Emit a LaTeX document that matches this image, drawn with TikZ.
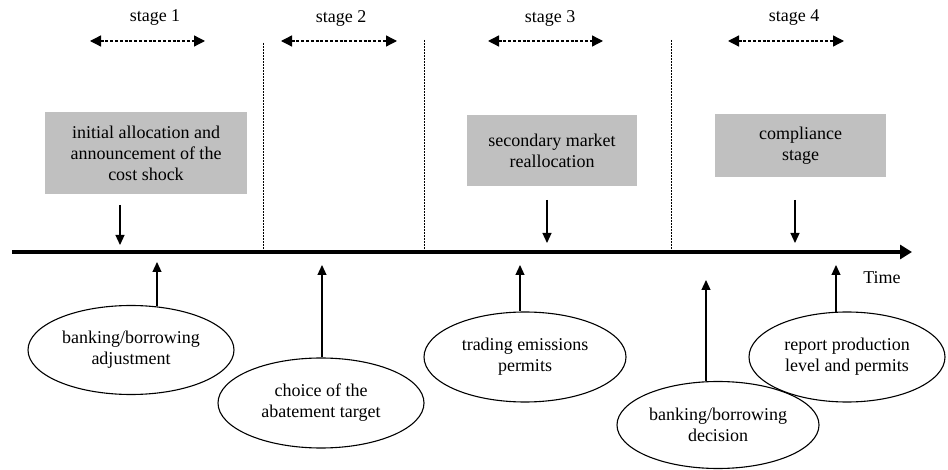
\documentclass[tikz,border=0pt]{standalone}
\usepackage{fontspec}
\setmainfont{Liberation Serif}
\usetikzlibrary{arrows.meta,shapes.geometric}
\definecolor{boxgray}{RGB}{192,192,192}
\begin{document}
\begin{tikzpicture}[x=1pt,y=-1pt,
  every node/.style={font=\fontsize{18}{21}\selectfont, align=center},
  graybox/.style={fill=boxgray, draw=none, inner sep=0pt},
  oval/.style={ellipse, draw, line width=1.1pt, inner sep=0pt},
  stagearrow/.style={line width=1.3pt, dash pattern=on 3pt off 1.8pt, {Triangle[length=11pt,width=11pt]}-{Triangle[length=11pt,width=11pt]}},
  divider/.style={line width=1pt, dash pattern=on 2pt off 1pt},
  vertarrow/.style={line width=1.2pt, -{Triangle[length=10pt,width=9pt]}},
  timeline/.style={line width=4pt, -{Triangle[length=12pt,width=14pt]}}]
\useasboundingbox (0,0) rectangle (948,470);

% stage labels
\node (s1) at (155,18) {stage 1};
\node (s2) at (341,18) {stage 2};
\node (s3) at (550,18) {stage 3};
\node (s4) at (794,18) {stage 4};

% stage span arrows
\coordinate (s1a) at (90,41);  \coordinate (s1b) at (205,41);
\coordinate (s2a) at (281,41); \coordinate (s2b) at (397,41);
\coordinate (s3a) at (488,41); \coordinate (s3b) at (603,41);
\coordinate (s4a) at (728,41); \coordinate (s4b) at (844,41);
\draw[stagearrow] (s1a) -- (s1b);
\draw[stagearrow] (s2a) -- (s2b);
\draw[stagearrow] (s3a) -- (s3b);
\draw[stagearrow] (s4a) -- (s4b);

% dividers
\coordinate (v1a) at (263,43); \coordinate (v1b) at (263,250);
\coordinate (v2a) at (424,40); \coordinate (v2b) at (424,250);
\coordinate (v3a) at (671,40); \coordinate (v3b) at (671,250);
\draw[divider] (v1a) -- (v1b);
\draw[divider] (v2a) -- (v2b);
\draw[divider] (v3a) -- (v3b);

% timeline
\coordinate (tl0) at (12,252);
\coordinate (tl1) at (912,252);
\draw[timeline] (tl0) -- (tl1);
\node (time) at (882,278) {Time};

% gray boxes
\node[graybox, minimum width=202pt, minimum height=82pt] (b1) at (146,153)
  {initial allocation and\\announcement of the\\cost shock};
\node[graybox, minimum width=170pt, minimum height=71pt] (b2) at (552,150.5)
  {secondary market\\reallocation};
\node[graybox, minimum width=171pt, minimum height=63pt] (b3) at (800.5,145.5)
  {compliance\\stage};

% down arrows
\coordinate (d1a) at (120,205); \coordinate (d1b) at (120,245);
\coordinate (d2a) at (547,200); \coordinate (d2b) at (547,243);
\coordinate (d3a) at (795,200); \coordinate (d3b) at (795,243);
\draw[vertarrow] (d1a) -- (d1b);
\draw[vertarrow] (d2a) -- (d2b);
\draw[vertarrow] (d3a) -- (d3b);

% ellipses
\node[oval, minimum width=206pt, minimum height=89pt] (e1) at (131,350)
  {banking/borrowing\\adjustment};
\node[oval, minimum width=206pt, minimum height=90pt] (e2) at (321,403)
  {choice of the\\abatement target};
\node[oval, minimum width=202pt, minimum height=90pt] (e3) at (525,357)
  {trading emissions\\permits};
\node[oval, minimum width=202pt, minimum height=87pt] (e4) at (718,425)
  {banking/borrowing\\decision};
\node[oval, minimum width=196pt, minimum height=90pt] (e5) at (847,357)
  {report production\\level and permits};

% up arrows
\coordinate (u1) at (157,262);
\coordinate (u2) at (322,265);
\coordinate (u3) at (520,265);
\coordinate (u4) at (706,280);
\coordinate (u5) at (836,265);
\draw[vertarrow] ([yshift=-1.5pt]e1.north -| u1) -- (u1);
\draw[vertarrow] (e2.north -| u2) -- (u2);
\draw[vertarrow] (e3.north -| u3) -- (u3);
\draw[vertarrow] ([yshift=-0.5pt]e4.north -| u4) -- (u4);
\draw[vertarrow] ([yshift=-0.5pt]e5.north -| u5) -- (u5);
\end{tikzpicture}
\end{document}
